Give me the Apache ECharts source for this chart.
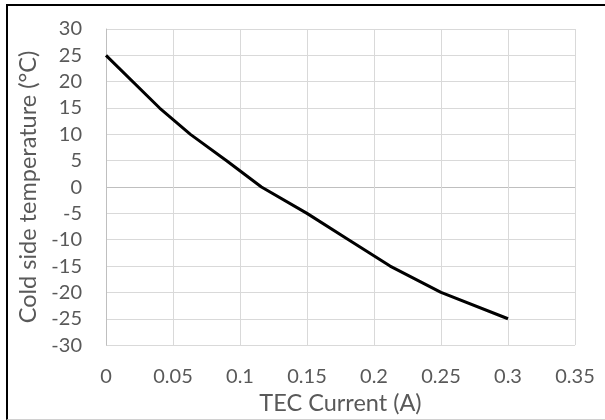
<!DOCTYPE html>
<html>
<head>
<meta charset="utf-8">
<script src="https://cdn.jsdelivr.net/npm/echarts@6/dist/echarts.min.js"></script>
<style>
  html, body { margin: 0; padding: 0; background: #fff; }
  #main { width: 605px; height: 420px; }
  #frame {
    position: absolute; left: 6px; top: 4px; width: 610px; height: 413px;
    border-top: 2px solid #000; border-left: 2px solid #000; border-bottom: 1px solid #d0d0d0;
    pointer-events: none;
  }
</style>
</head>
<body>
<div id="main"></div>
<div id="frame"></div>
<script>
// TEC current (A) vs cold side temperature (°C)
const current = [0, 0.04, 0.063, 0.09, 0.116, 0.15, 0.181, 0.212, 0.25, 0.3];
const temperature = [25, 15, 10, 5, 0, -5, -10, -15, -20, -25];

const xTicks = { min: 0, max: 0.35, interval: 0.05 };
const yTicks = { min: -30, max: 30, interval: 5 };

const gridColor = '#d9d9d9';
const splitColors = [];
for (let v = yTicks.min; v <= yTicks.max; v += yTicks.interval) {
  splitColors.push(v === 0 ? '#bfbfbf' : gridColor);
}

const myChart = echarts.init(document.getElementById('main'));
const labelFont = { color: '#595959', fontSize: 20, fontFamily: 'Lato' };
const nameFont = { color: '#595959', fontSize: 23.5, fontFamily: 'Lato' };

const option = {
  animation: false,
  grid: { left: 106, right: 30, top: 29, bottom: 74 },
  xAxis: {
    type: 'value',
    min: xTicks.min,
    max: xTicks.max,
    interval: xTicks.interval,
    name: 'TEC Current (A)',
    nameLocation: 'middle',
    nameGap: 44,
    nameTextStyle: nameFont,
    axisLine: { show: false },
    axisTick: { show: false },
    axisLabel: Object.assign({ margin: 21 }, labelFont),
    splitLine: { lineStyle: { color: gridColor, width: 1 } }
  },
  yAxis: {
    type: 'value',
    min: yTicks.min,
    max: yTicks.max,
    interval: yTicks.interval,
    name: 'Cold side temperature (°C)',
    nameLocation: 'middle',
    nameGap: 65,
    nameTextStyle: nameFont,
    axisLine: { show: true, lineStyle: { color: '#bfbfbf', width: 1 } },
    axisTick: { show: false },
    axisLabel: Object.assign({ margin: 24 }, labelFont),
    splitLine: { lineStyle: { color: splitColors, width: 1 } }
  },
  series: [{
    type: 'line',
    data: current.map((x, i) => [x, temperature[i]]),
    showSymbol: false,
    lineStyle: { color: '#000', width: 3 },
    itemStyle: { color: '#000' }
  }]
};
myChart.setOption(option);
</script>
</body>
</html>
